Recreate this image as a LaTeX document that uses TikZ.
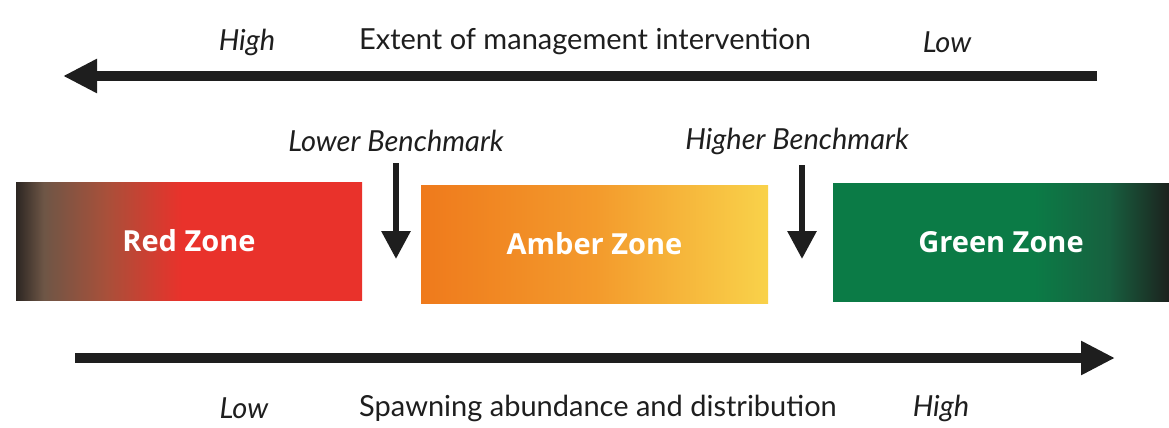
\documentclass[tikz,border=0pt]{standalone}
\usepackage{fontspec}
\setmainfont{Lato}
\newfontfamily\zonefont{Open Sans}
\usetikzlibrary{arrows.meta}

\definecolor{ink}{HTML}{1E1E1E}
\definecolor{redA}{HTML}{2C2622}
\definecolor{redM}{HTML}{6E5646}
\definecolor{redN}{HTML}{A8503A}
\definecolor{redB}{HTML}{E9322B}
\definecolor{amberA}{HTML}{EF7A1C}
\definecolor{amberM}{HTML}{F39A2C}
\definecolor{amberB}{HTML}{F9D24A}
\definecolor{greenA}{HTML}{0B7B46}
\definecolor{greenM}{HTML}{17603F}
\definecolor{greenB}{HTML}{1C221E}

% shadings: the stretch 25bp..75bp spans the box
\pgfdeclarehorizontalshading{redzone}{100bp}{color(0bp)=(redA); color(25bp)=(redA); color(29bp)=(redM); color(38bp)=(redN); color(49bp)=(redB); color(100bp)=(redB)}
\pgfdeclarehorizontalshading{amberzone}{100bp}{color(0bp)=(amberA); color(25bp)=(amberA); color(50bp)=(amberM); color(75bp)=(amberB); color(100bp)=(amberB)}
\pgfdeclarehorizontalshading{greenzone}{100bp}{color(0bp)=(greenA); color(25bp)=(greenA); color(55bp)=(greenA); color(66bp)=(greenM); color(75bp)=(greenB); color(100bp)=(greenB)}

\tikzset{
  zone/.style={minimum width=346pt, minimum height=118pt, inner sep=0pt,
    text=white, font=\zonefont\fontsize{29}{34}\selectfont\bfseries},
  caption/.style={text=ink, inner sep=0pt, font=\fontsize{29}{34}\selectfont},
  endlabel/.style={caption, font=\fontsize{29}{34}\selectfont\itshape},
  axis/.style={ink, line width=10pt, -{Triangle[length=34pt,width=32pt]}},
  mark arrow/.style={ink, line width=6pt, -{Triangle[length=28pt,width=28pt]}}
}

\begin{document}
\begin{tikzpicture}[x=1pt,y=-1pt]
  \useasboundingbox (0,0) rectangle (1169,428);

  % top axis: management intervention
  \node[endlabel] (tophigh) at (247,42) {High};
  \node[caption] (toptitle) at (585,42) {Extent of management intervention};
  \node[endlabel] (toplow) at (947,42) {Low};
  \coordinate (topstart) at (1097,76);
  \coordinate (topend) at (63,76);
  \draw[axis] (topstart) -- (topend);

  % zones
  \node[zone, shading=redzone] (red) at (189,241) {Red Zone};
  \node[zone, shading=amberzone, minimum width=347pt] (amber) at (594.5,244) {Amber Zone};
  \node[zone, shading=greenzone, minimum width=336pt] (green) at (1001,242) {Green Zone};

  % benchmarks
  \node[endlabel] (lowbm) at (396,141) {Lower Benchmark};
  \node[endlabel] (highbm) at (797,141) {Higher Benchmark};
  \coordinate (lowtop) at (396,163);
  \coordinate (lowtip) at (396,259);
  \coordinate (hightop) at (802,165);
  \coordinate (hightip) at (802,259);
  \draw[mark arrow] (lowtop) -- (lowtip);
  \draw[mark arrow] (hightop) -- (hightip);

  % bottom axis: spawning abundance
  \coordinate (botstart) at (75,358);
  \coordinate (botend) at (1115,358);
  \draw[axis] (botstart) -- (botend);
  \node[endlabel] (botlow) at (244,408) {Low};
  \node[caption] (bottitle) at (598,408) {Spawning abundance and distribution};
  \node[endlabel] (bothigh) at (941,408) {High};
\end{tikzpicture}
\end{document}
